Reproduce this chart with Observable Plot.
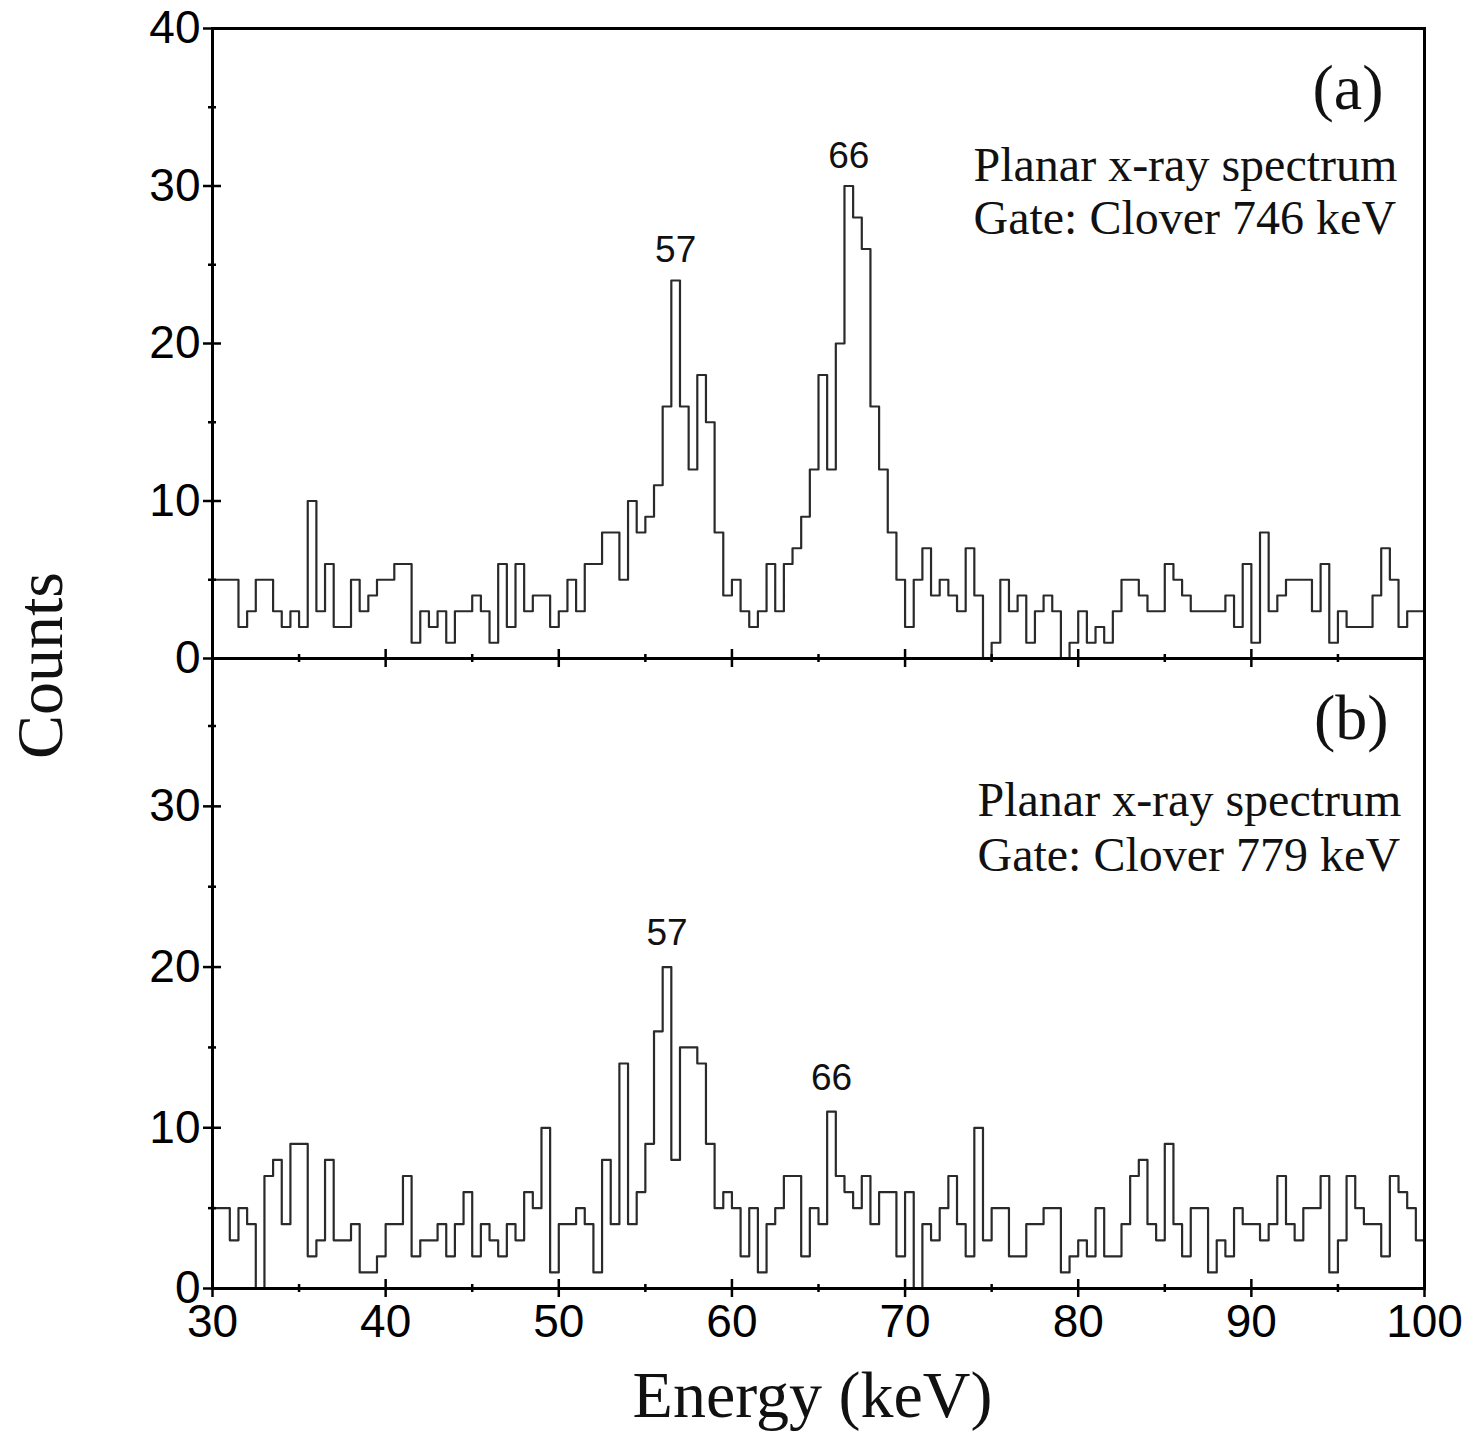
<!DOCTYPE html>
<html><head><meta charset="utf-8">
<script src="https://cdn.jsdelivr.net/npm/d3@7"></script>
<script src="https://cdn.jsdelivr.net/npm/@observablehq/plot@0.6"></script>
<style>
body{margin:0;background:#fff;}
#wrap{position:relative;width:1475px;height:1455px;}
#wrap svg{position:absolute;left:0;overflow:visible;}
</style></head><body><div id="wrap"></div>
<script>
// Histogram: 0.5 keV bins starting at 30 keV
const binStart = 30;
const binWidth = 0.5;
const countsA = [
  5,5,5,2,3,5,5,3,2,3,
  2,10,3,6,2,2,5,3,4,5,
  5,6,6,1,3,2,3,1,3,3,
  4,3,1,6,2,6,3,4,4,2,
  3,5,3,6,6,8,8,5,10,8,
  9,11,16,24,16,12,18,15,8,4,
  5,3,2,3,6,3,6,7,9,12,
  18,12,20,30,28,26,16,12,8,5,
  2,5,7,4,5,4,3,7,4,0,
  1,5,3,4,1,3,4,3,0,1,
  3,1,2,1,3,5,5,4,3,3,
  6,5,4,3,3,3,3,4,2,6,
  1,8,3,4,5,5,5,3,6,1,
  3,2,2,2,4,7,5,2,3,3
];
const countsB = [
  5,5,3,5,4,0,7,8,4,9,
  9,2,3,8,3,3,4,1,1,2,
  4,4,7,2,3,3,4,2,4,6,
  2,4,3,2,4,3,6,5,10,1,
  4,4,5,4,1,8,4,14,4,6,
  9,16,20,8,15,15,14,9,5,6,
  5,2,5,1,4,5,7,7,2,5,
  4,11,7,6,5,7,4,6,6,2,
  6,0,4,3,5,7,4,2,10,3,
  5,5,2,2,4,4,5,5,1,2,
  3,2,5,2,2,4,7,8,4,3,
  9,4,2,5,5,1,3,2,5,4,
  4,3,4,7,4,3,5,5,7,1,
  3,7,5,4,4,2,7,6,5,3
];
const xDomain = [30, 100];
const yDomainA = [0, 40];
const yDomainB = [0, 39.2];
const xTicks = [30, 40, 50, 60, 70, 80, 90, 100];
const xMinorTicks = [35, 45, 55, 65, 75, 85, 95];
const yTicksA = [0, 10, 20, 30, 40];
const yTicksB = [0, 10, 20, 30];
const yMinorTicks = [5, 15, 25, 35];
const peaksA = [{label: "57", energy: 56.75, count: 24}, {label: "66", energy: 66.75, count: 30}];
const peaksB = [{label: "57", energy: 56.25, count: 20}, {label: "66", energy: 65.75, count: 11}];
const tagA = "(a)", tagB = "(b)";
const notesA = ["Planar x-ray spectrum", "Gate: Clover 746 keV"];
const notesB = ["Planar x-ray spectrum", "Gate: Clover 779 keV"];
const yLabel = "Counts";
const xLabel = "Energy (keV)";

function steps(counts) {
  const pts = counts.map((c, i) => ({e: binStart + i * binWidth, c}));
  pts.push({e: binStart + counts.length * binWidth, c: counts[counts.length - 1]});
  return pts;
}

const SANS = "Liberation Sans, Arial, sans-serif";
const SERIF = "Liberation Serif, Times New Roman, serif";
const TICKFONT = 46;

function tickMarks(yTicks) {
  return [
    Plot.ruleX(xTicks, {x: d => d, y1: 0, y2: 0, insetTop: 9, insetBottom: 9, stroke: "#000", strokeWidth: 2.5}),
    Plot.ruleX(xMinorTicks, {x: d => d, y1: 0, y2: 0, insetTop: 4, insetBottom: 4, stroke: "#000", strokeWidth: 2.5}),
    Plot.ruleY(yTicks, {y: d => d, x1: 30, x2: 30, insetLeft: 9, insetRight: 9, stroke: "#000", strokeWidth: 2.5}),
    Plot.ruleY(yMinorTicks, {y: d => d, x1: 30, x2: 30, insetLeft: 4, insetRight: 4, stroke: "#000", strokeWidth: 2.5})
  ];
}

const chartA = Plot.plot({
  width: 1475, height: 700,
  marginLeft: 212, marginRight: 51, marginTop: 28, marginBottom: 42,
  style: {background: "transparent", fontFamily: SANS, overflow: "visible"},
  x: {domain: xDomain, axis: null},
  y: {domain: yDomainA},
  marks: [
    Plot.line(steps(countsA), {x: "e", y: "c", curve: "step-after", stroke: "#2a2a2a", strokeWidth: 2.2}),
    ...tickMarks(yTicksA),
    Plot.frame({stroke: "#000", strokeWidth: 3}),
    Plot.axisY(yTicksA, {tickSize: 0, tickPadding: 12, fontSize: TICKFONT, label: null, fontFamily: SANS}),
    Plot.text(peaksA, {x: "energy", y: "count", text: "label", dy: -30, fontSize: 37, fontFamily: SANS, fill: "#111"}),
    Plot.text([tagA], {frameAnchor: "top-right", dx: -41, dy: 60, textAnchor: "end", lineAnchor: "middle", fontSize: 64, fontFamily: SERIF, fill: "#111"}),
    Plot.text([notesA[0]], {frameAnchor: "top-right", dx: -451, dy: 137, textAnchor: "start", lineAnchor: "middle", fontSize: 48, fontFamily: SERIF, fill: "#111"}),
    Plot.text([notesA[1]], {frameAnchor: "top-right", dx: -451, dy: 190, textAnchor: "start", lineAnchor: "middle", fontSize: 48, fontFamily: SERIF, fill: "#111"}),
    Plot.text([yLabel], {frameAnchor: "bottom-left", dx: -172, dy: 7, rotate: -90, textAnchor: "middle", lineAnchor: "middle", fontSize: 66, fontFamily: SERIF, fill: "#111"})
  ]
});
chartA.style.top = "0px";

const chartB = Plot.plot({
  width: 1475, height: 855,
  marginLeft: 212, marginRight: 51, marginTop: 58, marginBottom: 167,
  style: {background: "transparent", fontFamily: SANS, overflow: "visible"},
  x: {domain: xDomain},
  y: {domain: yDomainB},
  marks: [
    Plot.line(steps(countsB), {x: "e", y: "c", curve: "step-after", stroke: "#2a2a2a", strokeWidth: 2.2}),
    ...tickMarks(yTicksB),
    Plot.frame({stroke: "#000", strokeWidth: 3}),
    Plot.axisY(yTicksB, {tickSize: 0, tickPadding: 12, fontSize: TICKFONT, label: null, fontFamily: SANS}),
    Plot.axisX(xTicks, {anchor: "bottom", tickSize: 0, tickPadding: 16, fontSize: TICKFONT, label: null, fontFamily: SANS}),
    Plot.text(peaksB, {x: "energy", y: "count", text: "label", dy: -34, fontSize: 37, fontFamily: SANS, fill: "#111"}),
    Plot.text([tagB], {frameAnchor: "top-right", dx: -36, dy: 60, textAnchor: "end", lineAnchor: "middle", fontSize: 64, fontFamily: SERIF, fill: "#111"}),
    Plot.text([notesB[0]], {frameAnchor: "top-right", dx: -447, dy: 142, textAnchor: "start", lineAnchor: "middle", fontSize: 48, fontFamily: SERIF, fill: "#111"}),
    Plot.text([notesB[1]], {frameAnchor: "top-right", dx: -447, dy: 197, textAnchor: "start", lineAnchor: "middle", fontSize: 48, fontFamily: SERIF, fill: "#111"}),
    Plot.text([xLabel], {frameAnchor: "bottom", dx: -6, dy: 107, textAnchor: "middle", lineAnchor: "middle", fontSize: 66, fontFamily: SERIF, fill: "#111"})
  ]
});
chartB.style.top = "600px";

const wrap = document.getElementById("wrap");
wrap.appendChild(chartA);
wrap.appendChild(chartB);
</script>
</body></html>
